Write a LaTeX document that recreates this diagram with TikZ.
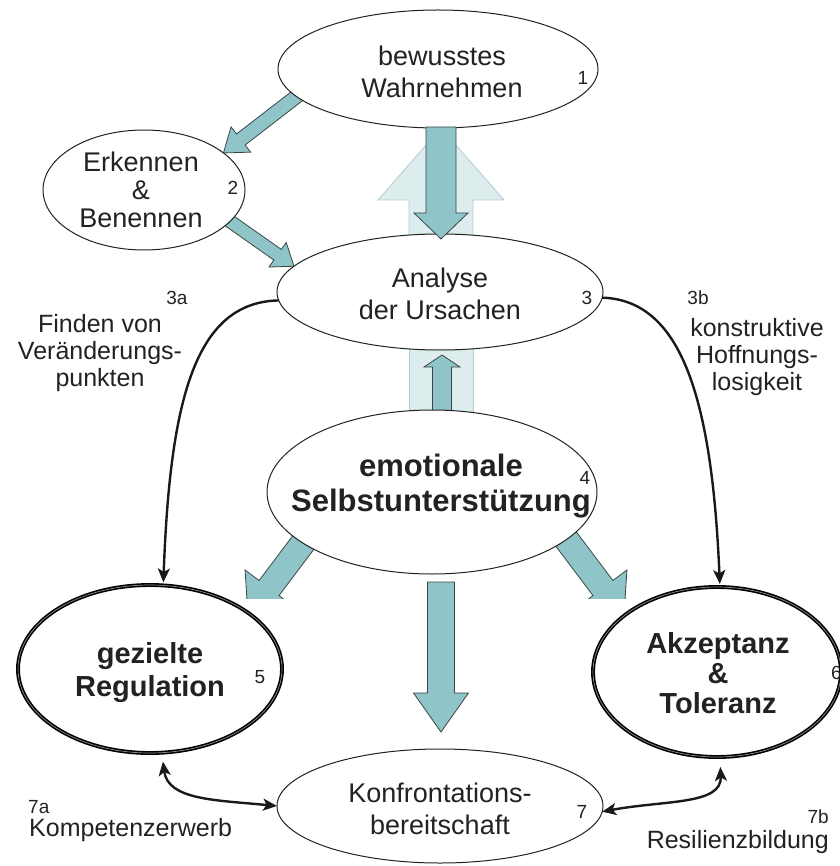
\documentclass[tikz,border=0pt]{standalone}
\usepackage{fontspec}
\setmainfont{Liberation Sans}
\usetikzlibrary{shapes.geometric,calc,arrows.meta}
\pgfdeclarelayer{under}
\pgfsetlayers{under,main}

\definecolor{arrowfill}{HTML}{8FC4C8}
\definecolor{arrowline}{HTML}{3C4646}
\definecolor{palefill}{HTML}{DDECEC}
\definecolor{paleline}{HTML}{B2CDCF}
\definecolor{ink}{HTML}{222222}

% block arrow: #1 tail, #2 tip, #3 shaft half width, #4 head half width, #5 head length, #6 style
\newcommand\blockarrow[6]{%
  \coordinate (bahead) at ($(#2)!#5!(#1)$);
  \filldraw[#6] ($(#1)!#3!90:(#2)$) -- ($(bahead)!#3!90:(#2)$)
    -- ($(bahead)!#4!90:(#2)$) -- (#2)
    -- ($(bahead)!#4!-90:(#2)$) -- ($(bahead)!#3!-90:(#2)$)
    -- ($(#1)!#3!-90:(#2)$) -- cycle;}

\tikzset{
  ell/.style={ellipse, draw=ink, line width=1pt, fill=white, inner sep=0pt, outer sep=0pt},
  boldell/.style={ell, draw=black, line width=1.6pt, double=black!45, double distance=0.7pt},
  tealarrow/.style={fill=arrowfill, draw=arrowline, line width=0.8pt, line join=miter},
  palearrow/.style={fill=palefill, draw=paleline, line width=0.8pt, line join=miter},
  curvearrow/.style={draw=black!90, line width=2.4pt},
  tipend/.style={-{Stealth[length=14pt,width=12pt,inset=3.5pt]}},
  bothtips/.style={{Stealth[length=14pt,width=12pt,inset=3.5pt]}-{Stealth[length=14pt,width=12pt,inset=3.5pt]}},
  lbl/.style={inner sep=0pt, align=center, text=ink, font=\fontsize{27}{32}\selectfont},
  lblbold/.style={lbl, font=\fontsize{29}{33}\selectfont\bfseries},
  lblbig/.style={lbl, font=\fontsize{31}{35}\selectfont\bfseries},
  small/.style={inner sep=0pt, align=center, text=ink, font=\fontsize{25}{27}\selectfont},
  num/.style={inner sep=0pt, text=ink, font=\fontsize{19}{21}\selectfont},
}

\begin{document}
\begin{tikzpicture}[x=1pt,y=-1pt]
\useasboundingbox (0,0) rectangle (839,866);

% the seven stations
\node[ell, minimum width=320pt, minimum height=118pt] (e1) at (438,69) {};
\node[ell, minimum width=202pt, minimum height=120pt] (e2) at (144,190) {};
\node[ell, minimum width=326pt, minimum height=116pt] (e3) at (440,292) {};
\node[ell, minimum width=330pt, minimum height=164pt] (e4) at (432,492) {};
\node[boldell, minimum width=264pt, minimum height=168pt] (e5) at (150,669) {};
\node[boldell, minimum width=248pt, minimum height=170pt] (e6) at (717,672) {};
\node[ell, minimum width=326pt, minimum height=114pt] (e7) at (440,806) {};

% arrows that run under the ellipses
\begin{pgfonlayer}{under}
  \coordinate (p31s) at (441,250);
  \coordinate (p31t) at (441,128);
  \blockarrow{p31s}{p31t}{32pt}{63pt}{72pt}{palearrow}
  \filldraw[palearrow] (409,340) rectangle (473,420);

  \coordinate (a12s) at ($(e1.191)!-14pt!(e2.25)$);
  \blockarrow{a12s}{e2.25}{7pt}{16pt}{22pt}{tealarrow}
  \coordinate (a23s) at ($(e2.-20)!-14pt!(e3.170)$);
  \blockarrow{a23s}{e3.170}{6.5pt}{15pt}{20pt}{tealarrow}

  \coordinate (a43s) at (442,430);
  \coordinate (a43t) at (442,355);
  \blockarrow{a43s}{a43t}{9.5pt}{18pt}{12pt}{tealarrow}

  \begin{scope}
    \clip (0,0) rectangle (839,598);
    \coordinate (a45s) at (315,527);
    \coordinate (a45t) at (248,616);
    \blockarrow{a45s}{a45t}{12.5pt}{30pt}{35pt}{tealarrow}
    \coordinate (a46s) at (557,527);
    \coordinate (a46t) at (624,616);
    \blockarrow{a46s}{a46t}{12.5pt}{30pt}{35pt}{tealarrow}
  \end{scope}
\end{pgfonlayer}

% arrows over the ellipses
\coordinate (a13s) at (441,127);
\coordinate (a13t) at (441,239);
\blockarrow{a13s}{a13t}{15pt}{27pt}{26pt}{tealarrow}
\coordinate (a47s) at (441,582);
\coordinate (a47t) at (441,732);
\blockarrow{a47s}{a47t}{13.5pt}{27.5pt}{39pt}{tealarrow}

% curved connectors
\draw[curvearrow, tipend, shorten >=3pt] (e3.183) .. controls (195,302) and (170,400) .. (e5.81);
\draw[curvearrow, tipend, shorten >=3pt] (e3.-2) .. controls (682,300) and (712,400) .. (e6.88);
\draw[curvearrow, bothtips, shorten <=9pt] (e5.-82) .. controls (168,800) and (215,800) .. (e7.west);
\draw[curvearrow, bothtips, shorten >=10pt] (e7.-2) .. controls (665,800) and (722,805) .. (e6.-88);

% texts in the ellipses
\node[lbl] (t1) at (442,72) {bewusstes\\Wahrnehmen};
\node[lbl, font=\fontsize{27}{28}\selectfont] (t2) at (141,190) {Erkennen\\\&\\Benennen};
\node[lbl] (t3) at (440,294) {Analyse\\der Ursachen};
\node[lblbig] (t4) at (441,486) {emotionale\\Selbstunterstützung};
\node[lblbold] (t5) at (150,673) {gezielte\\Regulation};
\node[lblbold, font=\fontsize{29}{30}\selectfont\bfseries] (t6) at (718,673) {Akzeptanz\\\&\\Toleranz};
\node[lbl] (t7) at (440,809) {Konfrontations-\\bereitschaft};

% numbers
\node[num] (n1) at (583,78) {1};
\node[num] (n2) at (233,188) {2};
\node[num] (n3) at (587,298) {3};
\node[num] (n4) at (585,478) {4};
\node[num] (n5) at (260,677) {5};
\node[num, anchor=west] (n6) at (831,673) {6};
\node[num] (n7) at (582,812) {7};

% side labels
\node[num] (n3a) at (177,298) {3a};
\node[small] (l3a) at (100,353) {Finden von\\Veränderungs-\\punkten};
\node[num] (n3b) at (698,298) {3b};
\node[small] (l3b) at (757,357) {konstruktive\\Hoffnungs-\\losigkeit};
\node[num, anchor=west] (n7a) at (28,807) {7a};
\node[small, anchor=west] (l7a) at (29,830) {Kompetenzerwerb};
\node[num, anchor=east] (n7b) at (829,817) {7b};
\node[small, anchor=east] (l7b) at (829,842) {Resilienzbildung};
\end{tikzpicture}
\end{document}
